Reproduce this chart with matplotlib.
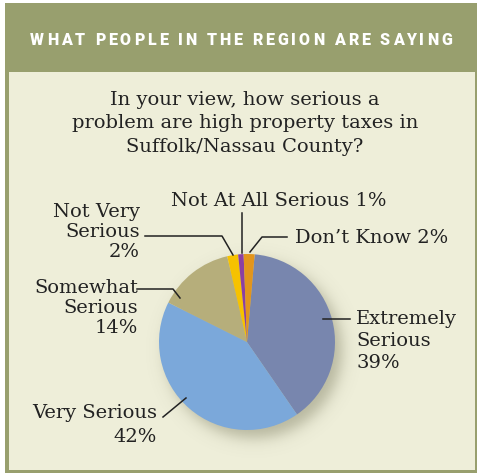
import numpy as np
import matplotlib
matplotlib.use("Agg")
import matplotlib.pyplot as plt
from matplotlib.patches import Rectangle
from matplotlib.font_manager import FontProperties
from matplotlib.textpath import text_to_path

# ---- data ----
categories = ["Extremely Serious", "Very Serious", "Somewhat Serious",
              "Not Very Serious", "Not At All Serious", "Don\u2019t Know"]
values = [39, 42, 14, 2, 1, 2]
colors = ["#7886ae", "#7ba8da", "#b6ae7b", "#f6c200", "#8b3fa3", "#e2951c"]
title_lines = ["In your view, how serious a",
               "problem are high property taxes in",
               "Suffolk/Nassau County?"]
header = "WHAT PEOPLE IN THE REGION ARE SAYING"

W, H = 482, 476
fig = plt.figure(figsize=(W / 100, H / 100), dpi=100)
ax = fig.add_axes([0, 0, 1, 1])


def Y(py):
    return H - py


GREEN = "#989f6e"
CREAM = "#eeeed9"
TXT = "#222222"
SERIF = ["DejaVu Serif"]

# frame
ax.add_patch(Rectangle((5, Y(473)), 472, 470, facecolor=GREEN, edgecolor="none", zorder=0))
ax.add_patch(Rectangle((8.5, Y(469.5)), 466, 397.5, facecolor=CREAM, edgecolor="none", zorder=0.5))

# header with letter spacing
hpx = 16.0
HFAM = "Roboto"
fp_px = FontProperties(family=HFAM, weight="bold", size=hpx)
def tw(s):
    if not s:
        return 0.0
    w, h, d = text_to_path.get_text_width_height_descent(s, fp_px, ismath=False)
    return w
target_w = 422.0
track = (target_w - tw(header)) / (len(header) - 1)
x0 = 241 - target_w / 2
for i, ch in enumerate(header):
    xi = x0 + tw(header[:i]) + track * i
    ax.text(xi, Y(40), ch, fontproperties=FontProperties(family=HFAM, weight="heavy", size=hpx * 72 / 100),
            color="white", ha="left", va="center", zorder=3)

# title
for i, line in enumerate(title_lines):
    ax.text(245, Y(100 + 23.5 * i), line, family=SERIF, fontsize=14, color=TXT,
            ha="center", va="center", zorder=3)

# shadow
cx, cy, R = 247, Y(342), 88
gx = np.linspace(cx - 130, cx + 130, 400)
gy = np.linspace(cy - 130, cy + 130, 400)
XX, YY = np.meshgrid(gx, gy)
d = np.hypot(XX - (cx + 7), YY - (cy - 8))
alpha = 0.38 * 0.5 * (1 - np.tanh((d - R) / 9.0))
img = np.zeros((400, 400, 4))
img[..., 0] = 0.36
img[..., 1] = 0.36
img[..., 2] = 0.24
img[..., 3] = alpha
ax.imshow(img, extent=(gx[0], gx[-1], gy[0], gy[-1]), origin="lower", zorder=1,
          interpolation="bilinear")

ax.pie(values, colors=colors, startangle=85, counterclock=False,
       center=(cx, cy), radius=R, wedgeprops=dict(linewidth=0, zorder=2))

ax.set_xlim(0, W)
ax.set_ylim(0, H)
ax.set_aspect("auto")
ax.axis("off")

lk = dict(color="#222222", lw=1.1, zorder=3)
# leader lines
ax.plot([242, 242], [Y(213), Y(253)], **lk)                       # Not at all
ax.plot([287, 262, 250], [Y(237), Y(237), Y(252)], **lk)          # Don't know
ax.plot([145, 222, 233], [Y(236), Y(236), Y(255)], **lk)          # Not very
ax.plot([137, 173, 180], [Y(289), Y(289), Y(298)], **lk)          # Somewhat
ax.plot([323, 350], [Y(319), Y(319)], **lk)                       # Extremely
ax.plot([163, 186], [Y(417), Y(398)], **lk)                       # Very

fs = 14
ax.text(279, Y(201), f"Not At All Serious {values[4]}%", family=SERIF, fontsize=fs,
        color=TXT, ha="center", va="center", zorder=3)
ax.text(295, Y(238), f"Don\u2019t Know {values[5]}%", family=SERIF, fontsize=fs,
        color=TXT, ha="left", va="center", zorder=3)
ax.text(140, Y(232), f"Not Very\nSerious\n{values[3]}%", family=SERIF, fontsize=fs,
        color=TXT, ha="right", va="center", multialignment="right", linespacing=1.15, zorder=3)
ax.text(138, Y(308), f"Somewhat\nSerious\n{values[2]}%", family=SERIF, fontsize=fs,
        color=TXT, ha="right", va="center", multialignment="right", linespacing=1.15, zorder=3)
ax.text(356, Y(341), f"Extremely\nSerious\n{values[0]}%", family=SERIF, fontsize=fs,
        color=TXT, ha="left", va="center", multialignment="left", linespacing=1.26, zorder=3)
ax.text(157, Y(425), f"Very Serious\n{values[1]}%", family=SERIF, fontsize=fs,
        color=TXT, ha="right", va="center", multialignment="right", linespacing=1.41, zorder=3)

fig.savefig("out.png", dpi=100, facecolor="white")
